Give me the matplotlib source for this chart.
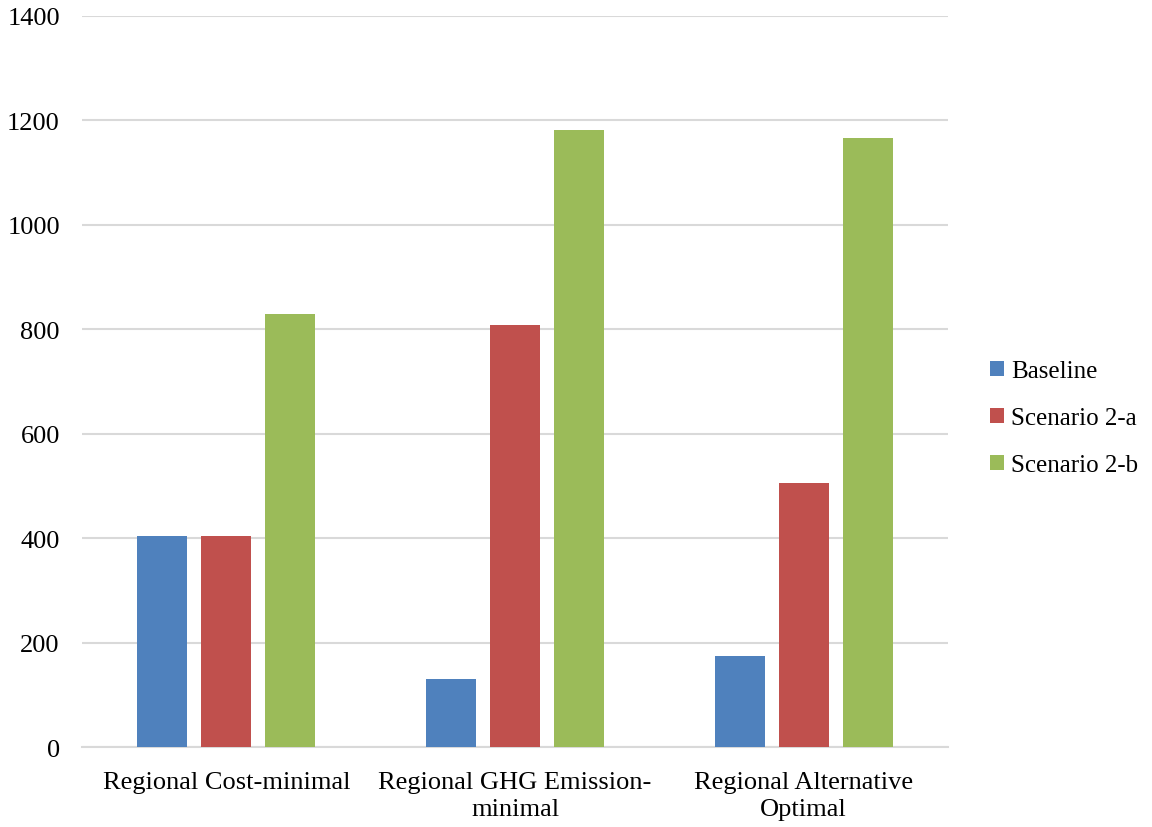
import matplotlib
matplotlib.use("Agg")
import matplotlib.pyplot as plt
import numpy as np

# Scenario results per regional optimisation
categories = ["Regional Cost-minimal", "Regional GHG Emission-\nminimal", "Regional Alternative\nOptimal"]
baseline = [404, 130, 174]
scenario_2a = [404, 808, 506]
scenario_2b = [829, 1182, 1166]

series = [("Baseline", baseline, "#4F81BD"),
          ("Scenario 2-a", scenario_2a, "#C0504D"),
          ("Scenario 2-b", scenario_2b, "#9BBB59")]

plt.rcParams['font.family'] = ['Liberation Serif', 'DejaVu Serif']

fig = plt.figure(figsize=(11.52, 8.28), dpi=100)
ax = fig.add_axes([0.0712, 0.0966, 0.7517, 0.8829])

x = np.arange(len(categories))
width = 0.173
step = 0.222
for i, (name, vals, col) in enumerate(series):
    ax.bar(x + (i - 1) * step, vals, width, color=col, label=name, zorder=3)

ax.set_xlim(-0.5, len(categories) - 0.5)
ax.set_ylim(0, 1400)
ax.set_yticks(range(0, 1401, 200))
ax.set_xticks(x)
ax.set_xticklabels(categories, fontsize=19, linespacing=1.3)
ax.tick_params(axis='y', labelsize=19, length=0, pad=16)
ax.tick_params(axis='x', length=0, pad=17)
ax.grid(axis='y', color='#D9D9D9', linewidth=1.5, zorder=0)
for s in ['top', 'right', 'left']:
    ax.spines[s].set_visible(False)
ax.spines['bottom'].set_color('#D9D9D9')
ax.spines['bottom'].set_linewidth(1.5)

ax.legend(loc='center left', bbox_to_anchor=(1.037, 0.45), frameon=False,
          fontsize=18, handlelength=0.55, handleheight=0.55, handletextpad=0.3,
          labelspacing=1.0, borderaxespad=0)

fig.savefig("out.png", dpi=100)
